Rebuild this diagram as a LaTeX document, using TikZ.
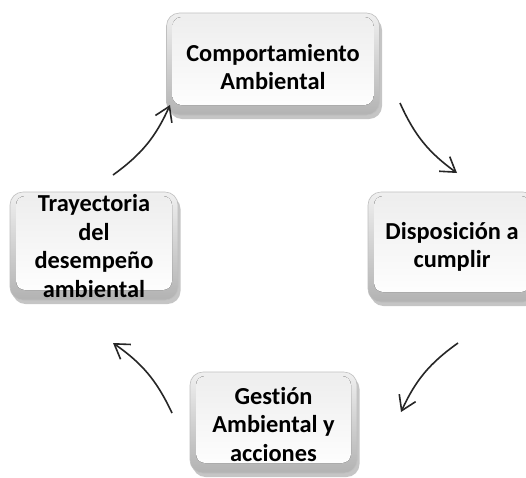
\documentclass[tikz,border=0pt]{standalone}
\usepackage{fontspec}
\setmainfont{Carlito}[Ligatures=NoCommon]
\usetikzlibrary{arrows.meta,shadows}
\tikzset{
  box/.style={rounded corners=13pt, draw=gray!50, line width=0.6pt,
    top color=gray!12, bottom color=gray!60, inner sep=0pt,
    drop shadow={opacity=0.45, shadow xshift=2.5pt, shadow yshift=-4pt},
    path picture={\fill[rounded corners=9pt, top color=gray!14, bottom color=white]
      ([shift={(6pt,-4pt)}]path picture bounding box.north west) rectangle
      ([shift={(-6pt,10pt)}]path picture bounding box.south east);}},
  lbl/.style={font=\bfseries\fontsize{24.4}{28.5}\selectfont, align=center, inner sep=0pt},
  arr/.style={draw=black!85, line width=1.6pt, -{Straight Barb[length=14pt,width=18pt]}}
}
\begin{document}
\begin{tikzpicture}[x=1pt,y=-1pt]
\useasboundingbox (0,0) rectangle (526,477);
\fill[white] (0,0) rectangle (526,477);
% boxes
\node[box, minimum width=213pt, minimum height=102pt] (T) at (273,64) {};
\node[box, minimum width=168pt, minimum height=110pt] (R) at (452,247) {};
\node[box, minimum width=167pt, minimum height=101pt] (B) at (273.5,422.5) {};
\node[box, minimum width=168pt, minimum height=108pt] (L) at (94,246) {};
% labels
\node[lbl] (Tt) at ([yshift=-3pt]T.center) {Comportamiento\\Ambiental};
\node[lbl] (Rt) at (R) {Disposición a\\cumplir};
\node[lbl] (Bt) at ([yshift=-2pt]B.center) {Gestión\\Ambiental y\\acciones};
\node[lbl] (Lt) at (L) {Trayectoria\\del\\desempeño\\ambiental};
% connector end points
\coordinate (a1s) at (400,103); \coordinate (a1e) at (457,173);
\coordinate (a2s) at (458,343); \coordinate (a2e) at (401,412);
\coordinate (a3s) at (172,413); \coordinate (a3e) at (113,343);
\coordinate (a4s) at (113,175); \coordinate (a4e) at (170,105);
\draw[arr] (a1s) to[bend right=15] (a1e);
\draw[arr] (a2s) to[bend right=15] (a2e);
\draw[arr] (a3s) to[bend right=15] (a3e);
\draw[arr] (a4s) to[bend right=15] (a4e);
\end{tikzpicture}
\end{document}
